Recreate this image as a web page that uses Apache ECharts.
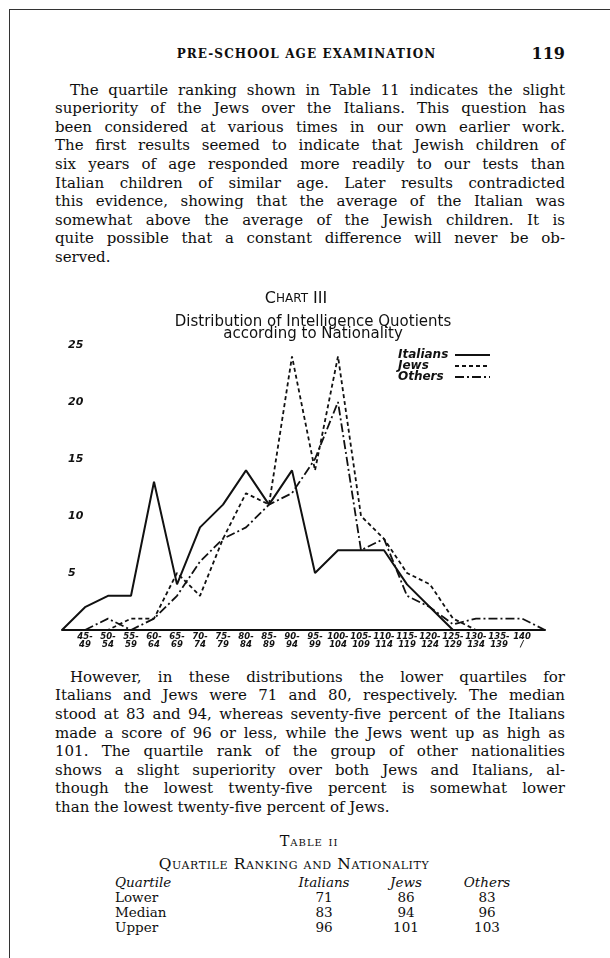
<!DOCTYPE html>
<html>
<head>
<meta charset="utf-8">
<script src="https://cdn.jsdelivr.net/npm/echarts@6/dist/echarts.min.js"></script>
<style>
  html, body { margin: 0; padding: 0; background: #fff; }
  #page { position: relative; width: 610px; height: 958px; overflow: hidden; color: #0e0e0e;
          font-family: "DejaVu Serif", serif; }
  .frame { position: absolute; left: 9px; top: 9px; width: 700px; height: 1000px;
           border-left: 1.5px solid #333; border-top: 1.5px solid #333; }
  .abs { position: absolute; white-space: nowrap; }
  .para { position: absolute; left: 55px; width: 510px; font-size: 15px; line-height: 18.6px; }
  .para div { text-align: justify; text-align-last: justify; }
  .para div.first { padding-left: 15px; }
  .para div.last { text-align-last: left; }
  .sc { font-variant: small-caps; }
  #chart { position: absolute; left: 0; top: 280px; width: 610px; height: 380px; }
  .tbl { position: absolute; font-size: 13.5px; line-height: 15px; }
</style>
</head>
<body>
<div id="page">
  <div class="frame"></div>
  <div class="abs" style="left:170px; top:47px; width:273px; text-align:center; font-size:12px; font-weight:bold; letter-spacing:1.1px;">PRE-SCHOOL AGE EXAMINATION</div>
  <div class="abs" style="left:515px; top:44px; width:50px; text-align:right; font-size:16px; font-weight:bold;">119</div>

  <div class="para" id="p1" style="top:80.7px;"></div>
  <div id="chart"></div>
  <div class="para" id="p2" style="top:667.8px;"></div>

  <div class="abs sc" style="left:200px; top:833px; width:218px; text-align:center; font-size:14.5px; letter-spacing:1px;">Table ii</div>
  <div class="abs sc" style="left:140px; top:855px; width:308px; text-align:center; font-size:15.5px; letter-spacing:0.6px;">Quartile Ranking and Nationality</div>
  <div id="table"></div>
</div>
<script>
// chart data: score intervals, counts per nationality
var categories = ['40-44', '45-49', '50-54', '55-59', '60-64', '65-69', '70-74', '75-79', '80-84', '85-89', '90-94',
  '95-99', '100-104', '105-109', '110-114', '115-119', '120-124', '125-129', '130-134', '135-139', '140-', ''];
var tickLabels = ['', '45-\n49', '50-\n54', '55-\n59', '60-\n64', '65-\n69', '70-\n74', '75-\n79', '80-\n84', '85-\n89', '90-\n94',
  '95-\n99', '100-\n104', '105-\n109', '110-\n114', '115-\n119', '120-\n124', '125-\n129', '130-\n134', '135-\n139', '140\n/', ''];
var italians = [0, 2, 3, 3, 13, 4, 9, 11, 14, 11, 14, 5, 7, 7, 7, 4, 2, 0, null, null, null, null];
var jews = [null, 0, 0, 1, 1, 5, 3, 8, 12, 11, 24, 14, 24, 10, 8, 5, 4, 1, 0, null, null, null];
var others = [null, 0, 1, 0, 1, 3, 6, 8, 9, 11, 12, 15, 20, 7, 8, 3, 2, 0.5, 1, 1, 1, 0];
var yTicks = [0, 5, 10, 15, 20, 25];

// table data
var tableCols = ['Italians', 'Jews', 'Others'];
var tableRows = ['Lower', 'Median', 'Upper'];
var tableItalians = [71, 83, 96];
var tableJews = [86, 94, 101];
var tableOthers = [83, 96, 103];

var para1 = [
  'The quartile ranking shown in Table 11 indicates the slight',
  'superiority of the Jews over the Italians.  This question has',
  'been considered at various times in our own earlier work.',
  'The first results seemed to indicate that Jewish children of',
  'six years of age responded more readily to our tests than',
  'Italian children of similar age.  Later results contradicted',
  'this evidence, showing that the average of the Italian was',
  'somewhat above the average of the Jewish children.  It is',
  'quite possible that a constant difference will never be ob-',
  'served.'
];
var para2 = [
  'However, in these distributions the lower quartiles for',
  'Italians and Jews were 71 and 80, respectively.  The median',
  'stood at 83 and 94, whereas seventy-five percent of the Italians',
  'made a score of 96 or less, while the Jews went up as high as',
  '101.  The quartile rank of the group of other nationalities',
  'shows a slight superiority over both Jews and Italians, al-',
  'though the lowest twenty-five percent is somewhat lower',
  'than the lowest twenty-five percent of Jews.'
];

function fillPara(id, lines) {
  var el = document.getElementById(id);
  lines.forEach(function(t, i) {
    var d = document.createElement('div');
    d.textContent = t;
    if (i === 0) d.className = 'first';
    if (i === lines.length - 1) d.className += ' last';
    el.appendChild(d);
  });
}
fillPara('p1', para1);
fillPara('p2', para2);

// table
var tbl = document.getElementById('table');
var colX = [324, 406, 487];
function cell(text, left, top, center, italic) {
  var d = document.createElement('div');
  d.className = 'tbl abs';
  d.textContent = text;
  d.style.top = top + 'px';
  if (center) { d.style.left = (left - 40) + 'px'; d.style.width = '80px'; d.style.textAlign = 'center'; }
  else d.style.left = left + 'px';
  if (italic) d.style.fontStyle = 'italic';
  tbl.appendChild(d);
}
cell('Quartile', 115, 875, false, true);
tableCols.forEach(function(c, i) { cell(c, colX[i], 875, true, true); });
var colVals = [tableItalians, tableJews, tableOthers];
tableRows.forEach(function(r, j) {
  var top = 890 + j * 15;
  cell(r, 115, top, false, false);
  colVals.forEach(function(vals, i) { cell(String(vals[j]), colX[i], top, true, false); });
});

// chart
var hand = '"DejaVu Sans", sans-serif';
var myChart = echarts.init(document.getElementById('chart'));
var option = {
  animation: false,
  title: [
    {
      text: '{a|C}{b|HART} {a|III}',
      left: 291, top: 5, textAlign: 'center',
      textStyle: { rich: {
        a: { fontFamily: hand, fontSize: 16, fontWeight: 'normal', color: '#111' },
        b: { fontFamily: hand, fontSize: 12, fontWeight: 'normal', color: '#111' }
      } }
    },
    {
      text: 'Distribution of Intelligence Quotients\naccording to Nationality',
      left: 308, top: 31, textAlign: 'center',
      textStyle: { fontFamily: hand, fontSize: 15, fontWeight: 'normal', color: '#111', lineHeight: 12 }
    }
  ],
  legend: {
    data: ['Italians', 'Jews', 'Others'],
    orient: 'vertical',
    left: 393, top: 64,
    align: 'right',
    itemWidth: 35, itemHeight: 9, itemGap: -1,
    itemStyle: { opacity: 0 },
    formatter: function(name) { return '{n|' + name + '}'; },
    textStyle: {
      rich: { n: { fontFamily: hand, fontStyle: 'italic', fontWeight: 'bold', fontSize: 12, color: '#111',
                   width: 52, align: 'left', lineHeight: 11, height: 11 } }
    }
  },
  grid: { left: 62, right: 65, top: 65, bottom: 30 },
  xAxis: {
    type: 'category',
    data: categories,
    boundaryGap: false,
    axisLine: { lineStyle: { color: '#111', width: 2 } },
    axisTick: { show: false },
    axisLabel: {
      interval: 0, margin: 3, fontSize: 8.5, lineHeight: 8,
      fontFamily: hand, fontStyle: 'italic', fontWeight: 'bold', color: '#111',
      formatter: function(v, i) { return tickLabels[i]; }
    }
  },
  yAxis: {
    type: 'value',
    min: yTicks[0], max: yTicks[yTicks.length - 1], interval: 5,
    axisLine: { show: false },
    axisTick: { show: false },
    splitLine: { show: false },
    axisLabel: {
      inside: true, margin: 6, fontSize: 11,
      fontFamily: hand, fontStyle: 'italic', fontWeight: 'bold', color: '#111',
      formatter: function(v) { return v === 0 ? '' : String(v); }
    }
  },
  series: [
    { name: 'Italians', type: 'line', data: italians, symbol: 'none',
      lineStyle: { color: '#111', width: 2 } },
    { name: 'Jews', type: 'line', data: jews, symbol: 'none',
      lineStyle: { color: '#111', width: 1.8, type: [4, 3] } },
    { name: 'Others', type: 'line', data: others, symbol: 'none',
      lineStyle: { color: '#111', width: 1.8, type: [9, 3, 2, 3] } }
  ]
};
myChart.setOption(option);
</script>
</body>
</html>
